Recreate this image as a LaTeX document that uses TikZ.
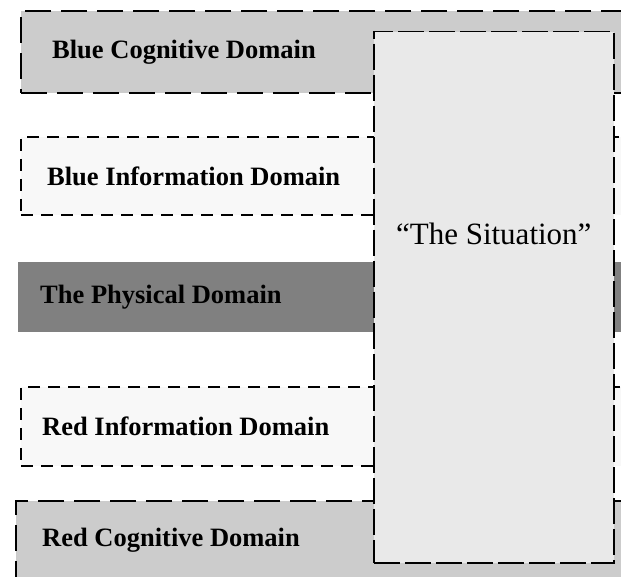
\documentclass[tikz,border=0pt]{standalone}
\usepackage{fontspec}
\setmainfont{Liberation Serif}
\usepackage{tikz}
\usetikzlibrary{positioning}
\definecolor{cogfill}{RGB}{204,204,204}
\definecolor{physfill}{RGB}{128,128,128}
\definecolor{infofill}{RGB}{248,248,248}
\definecolor{sitfill}{RGB}{233,233,233}

\begin{document}
\begin{tikzpicture}[x=1pt, y=-1pt,
    band/.style   ={rectangle, anchor=north west, inner sep=0pt,
                    minimum width=640pt},
    cogband/.style={band, fill=cogfill, draw=black, line width=2.2pt,
                    dash pattern=on 26pt off 10pt},
    infoband/.style={band, fill=infofill, draw=black, line width=2pt,
                    dash pattern=on 12pt off 8pt},
    physband/.style={band, fill=physfill},
    lbl/.style    ={anchor=west, inner sep=0pt,
                    font=\fontsize{26.5}{30}\selectfont\bfseries},
    sit/.style    ={rectangle, anchor=north west, inner sep=0pt,
                    fill=sitfill, draw=black, line width=1.5pt,
                    dash pattern=on 26pt off 5pt,
                    minimum width=240pt, minimum height=531pt},
    sitlbl/.style ={inner sep=0pt, font=\fontsize{31}{35}\selectfont}
]
\useasboundingbox (0,0) rectangle (621,577);
\clip (0,0) rectangle (621,577);

% ============================================================
% DOMAINES
% ============================================================

% -- bleu --
\node[cogband,  minimum height=82pt] (bcog)  at (20,10)  {};
\node[infoband, minimum height=78pt] (binfo) at (20,136) {};

% -- physique --
\node[physband, minimum height=70pt] (phys)  at (18,262) {};

% -- rouge --
\node[infoband, minimum height=79pt] (rinfo) at (20,386) {};
\node[cogband,  minimum height=100pt] (rcog) at (15,500) {};

% -- textes --
\node[lbl] (bcogt)  at ([xshift=32pt]bcog.west)         {Blue Cognitive Domain};
\node[lbl] (binfot) at ([xshift=27pt]binfo.west)        {Blue Information Domain};
\node[lbl] (physt)  at ([xshift=22pt]phys.west)         {The Physical Domain};
\node[lbl] (rinfot) at ([xshift=22pt]rinfo.west)        {Red Information Domain};
\node[lbl] (rcogt)  at ([xshift=27pt, yshift=-10pt]rcog.west |- 0,530) {Red Cognitive Domain};

% ============================================================
% SITUATION
% ============================================================

\node[sit] (sit) at (373,31) {};
\node[sitlbl, below=192pt of sit.north] (sitt) {``The Situation''};

\end{tikzpicture}
\end{document}
